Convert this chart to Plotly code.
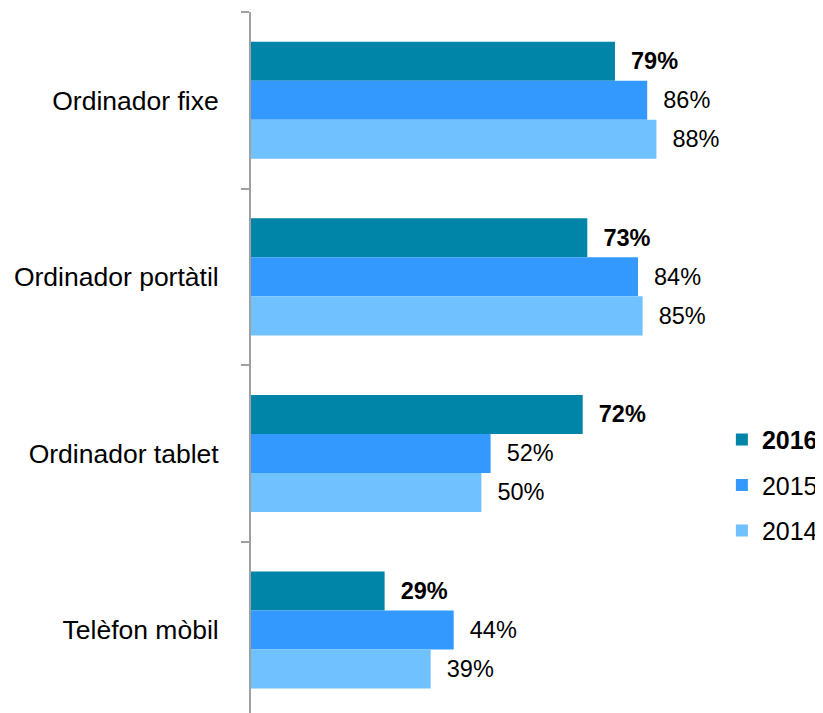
import plotly.graph_objects as go

categories = ["Ordinador fixe", "Ordinador portàtil", "Ordinador tablet", "Telèfon mòbil"]
v2016 = [79, 73, 72, 29]
v2015 = [86, 84, 52, 44]
v2014 = [88, 85, 50, 39]
series_names = ["<b>2016</b>", "2015", "2014"]
colors = ["#0085A8", "#3399FF", "#70C1FF"]

FONT = "Liberation Sans, Arial, sans-serif"
NBSP = "\u00a0\u00a0"

fig = go.Figure()
for i, (name, vals, col) in enumerate(zip(series_names, [v2016, v2015, v2014], colors)):
    tmpl = NBSP + ("<b>%{x}%</b>" if i == 0 else "%{x}%")
    fig.add_trace(go.Bar(
        y=categories, x=vals, name=name, orientation="h",
        marker=dict(color=col, line=dict(width=0)),
        texttemplate=tmpl, textposition="outside", constraintext="none",
        textfont=dict(family=FONT, size=23.5, color="#000000"),
        cliponaxis=False, legendgroup=str(i),
    ))

# page body has an 8px default margin; size the figure to fill the window
fig.update_layout(
    width=815, height=705,
    margin=dict(l=243, r=103, t=4, b=0),
    paper_bgcolor="white", plot_bgcolor="white",
    barmode="group", bargap=0.337, bargroupgap=0,
    font=dict(family=FONT, size=24, color="#000000"),
    showlegend=True,
    legend=dict(x=1.004, y=0.325, xanchor="left", yanchor="middle",
                traceorder="grouped", tracegroupgap=10,
                font=dict(family=FONT, size=25, color="#000000"),
                bgcolor="rgba(0,0,0,0)", borderwidth=0),
)
fig.update_xaxes(range=[0, 101.8], visible=False, showgrid=False, fixedrange=True,
                 automargin=False)
fig.update_yaxes(
    type="category", categoryorder="array", categoryarray=categories,
    range=[3.47, -0.5], tickson="boundaries", automargin=False,
    showline=True, linecolor="#A0A0A0", linewidth=2,
    ticks="outside", ticklen=8, tickwidth=2, tickcolor="#A0A0A0",
    showgrid=False, zeroline=False,
    tickfont=dict(family=FONT, size=26.5, color="#000000"),
    ticklabelstandoff=25,
)

fig.write_html("out.html")
